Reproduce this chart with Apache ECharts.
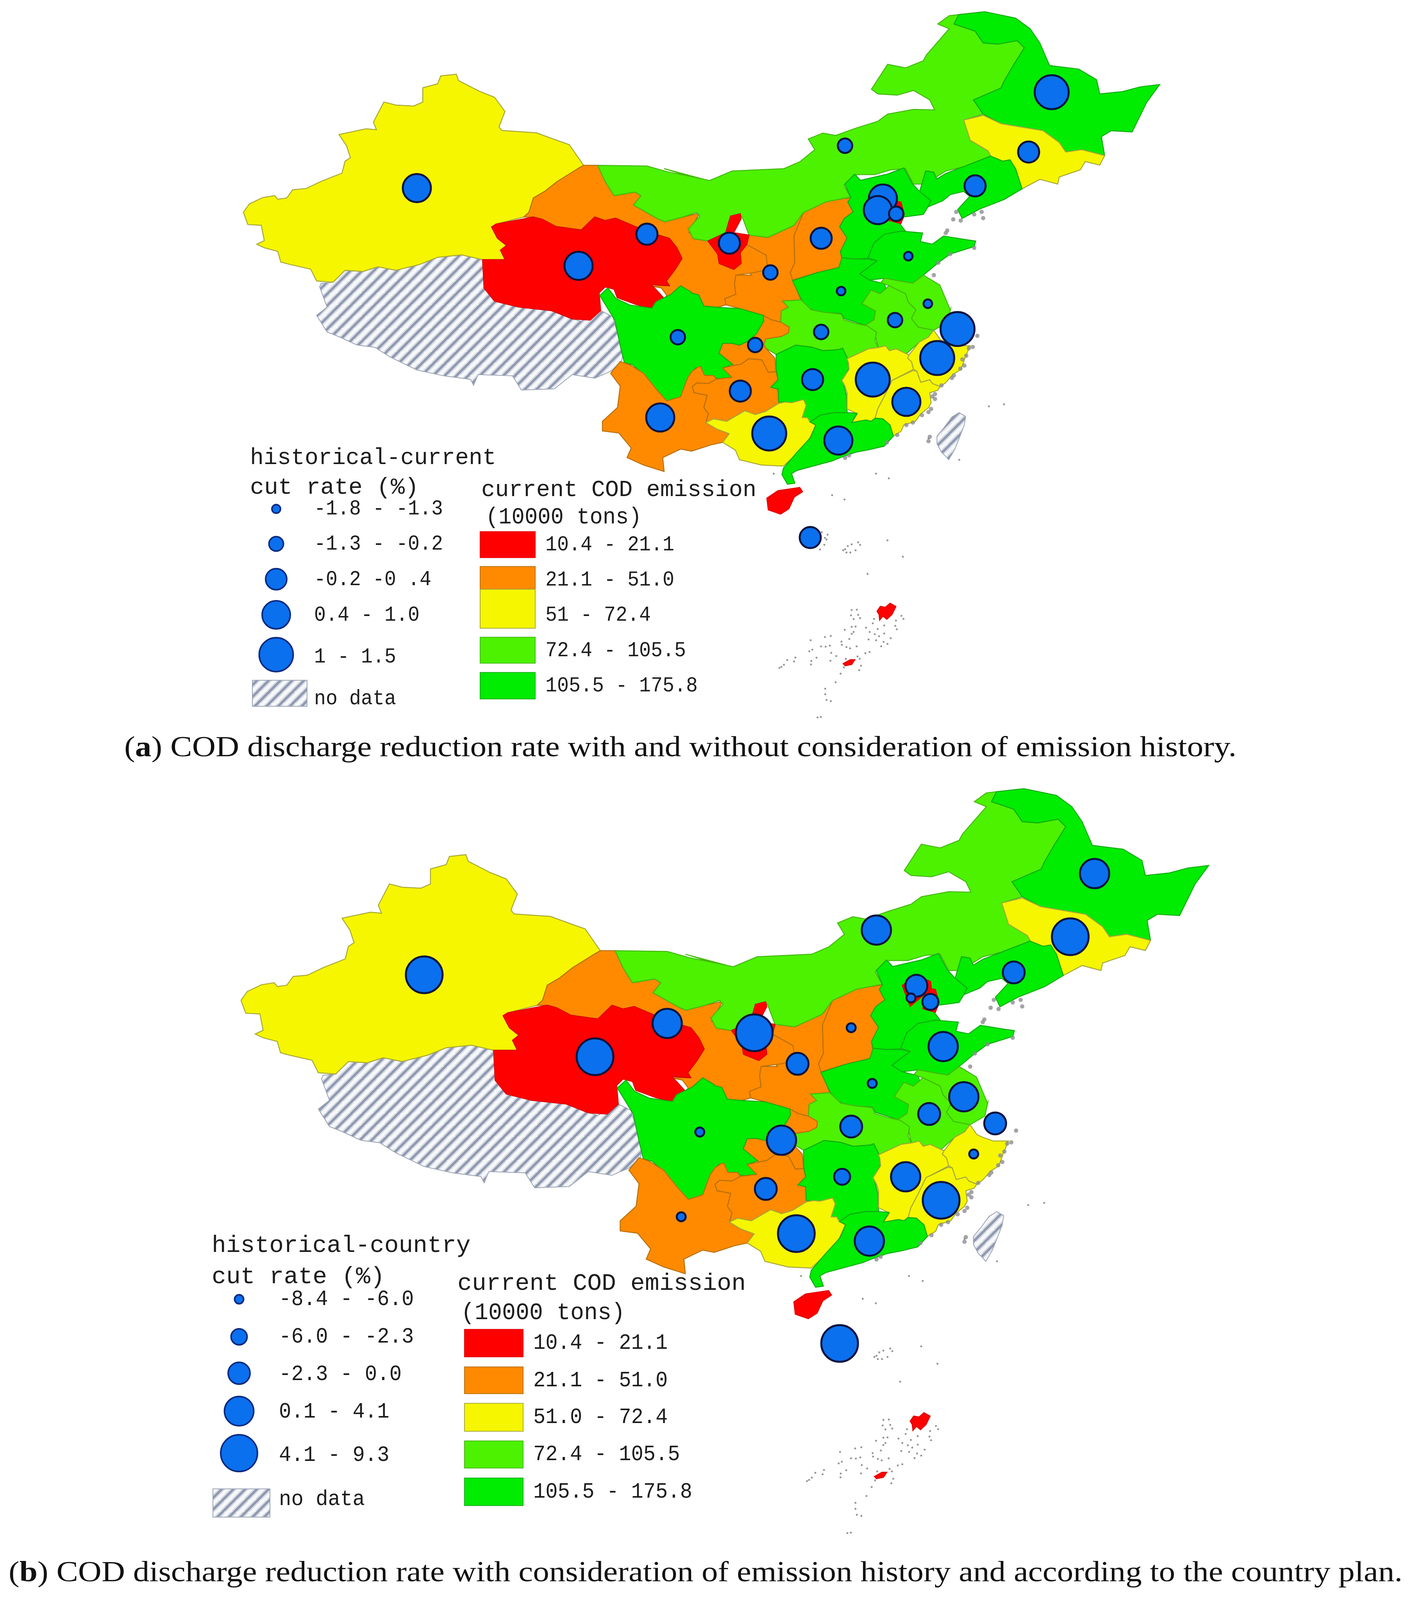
<!DOCTYPE html>
<html><head><meta charset="utf-8">
<style>html,body{margin:0;padding:0;background:#fff;overflow:hidden}#c{width:3622px;height:100vh}</style>
<script src="https://cdn.jsdelivr.net/npm/echarts@6/dist/echarts.min.js"></script>
</head><body><div id="c"></div>
<script>
// ---------- data ----------
const emissionClasses = ['10.4 - 21.1','21.1 - 51.0','51 - 72.4','72.4 - 105.5','105.5 - 175.8'];
const emissionClassesB = ['10.4 - 21.1','21.1 - 51.0','51.0 - 72.4','72.4 - 105.5','105.5 - 175.8'];
const emissionEdges = [10.4,21.1,51,72.4,105.5,175.8];
const classColors = ['#ff0000','#ff8a00','#f6f600','#4cf200','#00ec00'];
const classLines  = ['#e00000','#b8700a','#a8a83a','#45b80e','#10ad10'];
const emissionNames = ['Qinghai','Ningxia','Beijing','Tianjin','Hainan','Shanghai','Gansu','Shaanxi','Shanxi','Chongqing','Guizhou','Yunnan','Xinjiang','Jilin','Guangxi','Jiangxi','Fujian','Zhejiang','Inner Mongolia','Jiangsu','Anhui','Hubei','Heilongjiang','Liaoning','Hebei','Shandong','Henan','Sichuan','Hunan','Guangdong'];
const emissionValues = [10.4,21,18,20,19,20,38,48,44,39,32,50,66,72,70,71,62,70,86,104,88,103,146,125,134,175,137,123,124,175];

const rateEdgesA = [-1.8,-1.3,-0.2,0.4,1.0,1.5];
const rateEdgesB = [-8.4,-6.0,-2.3,0.05,4.1,9.3];
const rateLabelsA = ['-1.8 - -1.3','-1.3 - -0.2','-0.2 -0 .4','0.4 - 1.0','1 - 1.5'];
const rateLabelsB = ['-8.4 - -6.0','-6.0 - -2.3','-2.3 - 0.0','0.1 - 4.1','4.1 - 9.3'];
const bubbleNames = ['Xinjiang','Qinghai','Gansu','Sichuan','Yunnan','Chongqing','Guizhou','Guangxi','Guangdong','Hunan','Hubei','Jiangxi','Fujian','Shanghai','Zhejiang','Jiangsu','Anhui','Henan','Hainan','Shaanxi','Shanxi','Ningxia','Shandong','Liaoning','Jilin','Heilongjiang','Inner Mongolia','Beijing','Hebei','Tianjin'];
const bubbleAnchors = [[1067,506],[1481,715],[1656,630],[1735,907],[1690,1123],[1933,928],[1895,1052],[1969,1166],[2146,1185],[2080,1021],[2102,893],[2234,1021],[2320,1081],[2451,885],[2399,963],[2375,817],[2291,861],[2153,783],[2074,1446],[1972,733],[2102,641],[1867,654],[2325,689],[2496,500],[2633,409],[2692,248],[2163,392],[2260,534],[2247,565],[2294,575]];
const rateA = [0.7,0.6,0.1,-0.8,0.8,-0.9,0.2,1.2,0.7,0.2,-0.7,1.3,0.8,1.5,1.3,-1.5,-0.6,-1.7,0.2,-0.5,0.1,0.3,-1.6,0.1,0.2,1.1,-0.7,0.9,0.8,-0.3];
const rateB = [5.2,6.1,2.8,-7.2,-7.5,2.1,-1.4,6.4,2.4,-3.9,-1.2,2.9,6.8,-0.9,-6.9,2.5,-1.1,-7.8,9.3,-1.0,-8.1,7.4,1.9,-0.6,5.5,3.1,3.4,-0.5,-6.8,-3.0];

// province outlines, traced in reading frames of the source picture
const frames = {W:[600,150,1200/1568,1000/1568],E:[1700,20,1300/1568,1000/1568],S:[1500,700,1100/1568,900/1568],Z:[1950,1280,1/3,680/1568],N:[2000,400,600/1568,1/3],C:[1760,720,1/3,1/3],D:[2130,850,1/3,1/3]};
const outlines = [
['Xinjiang',[['W',[[690,85],[742,78],[750,105],[820,150],[870,175],[905,235],[885,300],[895,315],[1010,325],[1075,355],[1120,375],[1168,462],[1150,475],[1150,520],[1080,530],[1040,570],[1000,600],[985,660],[968,680],[875,710],[860,722],[880,770],[910,800],[890,820],[905,860],[830,860],[760,840],[680,850],[620,880],[540,905],[480,890],[430,910],[370,905],[330,955],[275,950],[255,900],[185,880],[155,870],[145,825],[100,810],[75,795],[100,780],[90,715],[45,712],[30,660],[50,625],[95,598],[135,590],[145,605],[175,600],[195,565],[240,560],[290,530],[360,495],[370,445],[388,430],[375,380],[350,332],[440,308],[475,312],[465,280],[500,195],[540,208],[600,212],[630,195],[630,135],[680,118]]]]],
['Tibet',[['W',[[290,960],[330,955],[370,905],[430,910],[480,890],[540,905],[620,880],[680,850],[760,840],[830,860],[835,980],[870,1035],[950,1060],[1060,1075],[1130,1110],[1160,1120],[1225,1075],[1265,1100],[1300,1250],[1295,1290],[1260,1330],[1205,1360],[1130,1345],[1070,1405],[960,1410],[930,1350],[815,1345],[800,1390],[790,1365],[700,1350],[610,1325],[520,1270],[470,1230],[410,1220],[350,1185],[310,1165],[275,1095],[310,1060],[285,975]]]]],
['Shaanxi',[['E',[[262,960],[320,970],[400,920]]],['N',[[150,510],[85,700],[90,920],[60,1000],[75,1060]]],['C',[[815,110],[870,260],[730,270],[775,320],[720,350],[715,440],[640,420],[580,385],[400,330],[295,300],[285,250],[370,215],[360,130],[370,60],[490,60]]],['E',[[238,1080],[235,1035],[255,1000]]]]],
['Shanxi',[['N',[[465,395],[445,430],[480,510],[420,565],[390,630],[440,720],[395,830],[405,890],[385,960],[240,1000],[75,1060],[60,1000],[90,920],[85,700],[150,510],[260,430]]]]],
['Gansu',[['W',[[1150,475],[1168,462],[1215,462],[1240,530],[1270,590],[1340,575],[1360,590],[1335,630],[1420,690],[1440,700],[1500,680],[1555,665],[1520,745],[1568,780]]],['E',[[75,935],[90,975],[135,985],[235,1020],[255,1000],[315,1045],[320,1105]]],['C',[[510,40],[370,60],[360,130],[370,215],[285,250],[295,300],[230,320],[125,310],[85,220],[0,205]]],['S',[[345,120],[310,160],[280,190],[295,165],[275,130],[235,120]]],['W',[[1455,970],[1445,950],[1475,900],[1497,855],[1480,810],[1455,770],[1415,755],[1340,720],[1275,685],[1240,695],[1205,680],[1160,735],[1075,720],[1030,690],[1000,680],[968,680],[985,660],[1000,600],[1040,570],[1080,530]]]]],
['Qinghai',[['W',[[860,722],[875,710],[1000,680],[1030,690],[1075,720],[1160,735],[1205,680],[1240,695],[1275,685],[1340,720],[1415,755],[1455,770],[1480,810],[1497,855],[1475,900],[1445,950],[1455,970],[1395,965],[1435,1020],[1395,1065],[1345,1050],[1280,1020],[1270,985],[1240,975],[1220,1000],[1225,1075],[1190,1115],[1130,1110],[1060,1075],[950,1060],[870,1035],[835,980],[830,860],[905,860],[890,820],[910,800],[880,770]]]]],
['Inner Mongolia',[['W',[[1215,462],[1380,465],[1450,490],[1568,520]]],['E',[[0,680],[60,705],[140,730],[210,690],[370,680],[420,650],[465,600],[445,555],[490,530],[530,540],[590,510],[660,480],[690,450],[770,430],[835,432],[820,390],[770,350],[720,370],[660,365],[640,345],[690,240],[745,255],[800,225],[810,200],[880,90],[845,70],[880,35],[910,30],[895,70],[960,100],[985,150],[1030,155],[1090,140],[1112,170],[1080,240],[1050,310],[1040,340],[955,390],[985,450],[925,475],[945,560],[1000,605],[1010,630],[960,660],[870,690],[840,715],[815,690],[800,745],[770,745],[745,680],[700,685],[650,705],[595,705],[555,750],[575,800],[500,820],[430,865],[400,920],[320,970],[262,960],[240,880],[205,880],[190,950],[135,985],[90,975],[75,935],[110,880],[100,865]]],['W',[[1500,680],[1440,700],[1420,690],[1335,630],[1360,590],[1340,575],[1270,590],[1240,530]]]]],
['Ningxia',[['E',[[205,880],[235,870],[238,890],[215,950],[262,960],[255,1000],[235,1035],[238,1080],[215,1105],[170,1080],[165,1040],[135,985],[190,950]]]]],
['Heilongjiang',[['E',[[895,70],[910,30],[990,18],[1085,45],[1130,90],[1160,150],[1190,245],[1280,260],[1335,305],[1345,365],[1415,355],[1470,335],[1530,325],[1490,400],[1445,525],[1380,520],[1350,545],[1360,625],[1290,600],[1240,610],[1220,570],[1170,520],[1040,490],[985,450],[955,390],[1040,340],[1050,310],[1080,240],[1112,170],[1090,140],[1030,155],[985,150],[960,100]]]]],
['Jilin',[['E',[[925,475],[985,455],[1040,490],[1170,520],[1220,570],[1240,610],[1290,600],[1360,625],[1345,665],[1300,650],[1285,685],[1220,715],[1215,745],[1160,725],[1105,765],[1085,680],[1050,650],[1010,630],[1000,605],[945,560]]]]],
['Liaoning',[['N',[[925,345],[965,180],[1020,190],[1040,245],[1100,200],[1250,130],[1400,60],[1480,100],[1530,90]]],['E',[[1085,680],[1105,765],[1050,810],[975,850],[920,890]]],['N',[[1180,490],[1260,385],[1220,345],[1130,370],[1080,420],[980,470],[1000,420]]]]],
['Hebei',[['N',[[425,285],[490,205],[530,255],[710,205],[820,155],[875,280],[925,345],[1000,420],[980,470],[950,530],[860,545],[820,550],[795,610],[830,665],[620,760],[580,885],[490,890],[405,880],[395,830],[440,720],[390,630],[420,565],[480,510],[445,430],[465,395]]]]],
['Beijing',[['N',[[590,400],[680,320],[770,370],[775,430],[720,480],[640,560]]]]],
['Tianjin',[['N',[[770,425],[800,430],[822,530],[800,605],[720,578],[740,480]]]]],
['Henan',[['N',[[75,1065],[240,1000],[385,960],[405,880],[490,890],[580,890],[640,905],[525,1010],[590,1060],[690,1090],[700,1130],[660,1170],[600,1140],[540,1250],[630,1310],[620,1380],[560,1425],[420,1370],[400,1330],[250,1320],[170,1280],[135,1220]]]]],
['Shandong',[['N',[[580,880],[620,760],[690,690],[800,665],[945,680],[930,750],[1010,770],[1085,705],[1240,735],[1300,745],[1290,790],[1130,850],[1050,920],[950,1020],[880,1085],[800,1070],[690,1045],[590,1060],[525,1010],[640,905]]]]],
['Jiangsu',[['N',[[665,1080],[690,1045],[800,1070],[880,1085],[950,1020],[1060,1100],[1130,1300]]],['S',[[1330,230],[1320,290]]],['D',[[780,115],[660,90]]],['N',[[870,1370],[900,1300],[850,1240],[830,1170],[720,1105]]]]],
['Anhui',[['N',[[540,1250],[600,1140],[660,1170],[700,1130],[720,1105],[830,1170],[850,1240],[900,1300],[870,1370]]],['D',[[660,90],[780,115],[740,170],[670,210],[570,305],[490,265],[440,280],[410,240],[355,255],[325,130],[270,80]]],['N',[[560,1425],[620,1380],[630,1310]]]]],
['Hubei',[['C',[[730,270],[870,260],[900,290],[950,340],[1050,360],[1180,375],[1200,420],[1290,450],[1380,470],[1450,520],[1440,590],[1465,650]]],['D',[[355,255],[280,265],[115,345]]],['C',[[1190,650],[1165,660],[1110,665],[1040,670],[950,640],[830,625],[680,700],[600,650],[585,620],[600,575],[720,555],[775,525],[780,480],[715,440],[720,350],[775,320]]]]],
['Chongqing',[['C',[[580,385],[640,420],[715,440],[780,480],[775,525],[720,555],[600,575],[585,620],[600,650],[670,730],[680,840],[620,845],[570,745],[470,735],[410,780],[350,790],[240,690],[270,610],[340,610],[400,625],[470,590],[530,530]]]]],
['Sichuan',[['S',[[50,165],[80,130],[110,180],[160,210],[240,225],[255,195],[310,160],[345,120],[385,150]]],['C',[[30,205],[85,220],[125,310],[230,320],[400,330],[580,385],[585,430],[530,530],[470,590],[400,625],[340,610],[270,610],[240,690],[345,780],[270,810],[340,885],[250,895],[215,890],[200,870],[130,870],[100,800],[60,810],[0,890]]],['S',[[345,640],[295,660],[260,610],[215,540],[170,490],[140,480],[125,400],[105,280]]]]],
['Guizhou',[['C',[[35,960],[70,930],[160,935],[220,900],[340,885],[270,810],[350,790],[410,780],[470,735],[570,745],[620,845],[680,840],[695,905],[640,965],[695,980],[700,1095],[600,1160],[520,1185],[440,1155],[300,1240],[200,1220],[140,1250],[160,1180],[125,1130],[150,1030],[50,1010]]]]],
['Yunnan',[['S',[[90,530],[125,475],[160,490],[210,530],[260,610],[295,660],[345,640]]],['C',[[0,890],[35,835],[85,800],[100,800],[130,870],[200,870],[220,900],[160,935],[70,930],[35,960],[50,1010],[150,1030],[125,1130],[160,1180],[140,1250],[220,1300],[320,1340],[270,1410],[180,1430]]],['S',[[385,895],[345,885],[280,925],[285,990],[210,960],[150,925],[165,880],[120,810],[60,800],[60,755],[115,690],[125,590]]]]],
['Hunan',[['C',[[680,700],[830,625],[950,640],[1040,670],[1110,665],[1165,660],[1190,650],[1225,725],[1240,810],[1190,910],[1220,1030],[1225,1170],[1130,1170],[1020,1190],[940,1245],[920,1210],[880,1210],[910,1110],[890,1065],[800,1090],[750,1085],[700,1085],[695,980],[640,965],[695,905],[680,820]]]]],
['Guangxi',[['C',[[140,1250],[200,1220],[300,1240],[440,1155],[520,1185],[600,1160],[700,1095],[750,1085],[800,1090],[890,1065],[910,1110],[880,1210],[920,1210],[940,1245],[985,1270],[940,1370],[900,1440],[850,1490]]],['S',[[720,965],[640,960],[560,935],[545,890]]],['C',[[270,1410],[320,1340],[220,1300]]]]],
['Jiangxi',[['D',[[115,345],[280,265],[355,255],[410,240],[440,280],[490,265],[570,305],[590,315],[580,340],[610,370],[625,430],[460,520],[405,640],[350,750],[330,825],[300,850],[260,840],[150,860],[195,790],[115,750],[115,620],[100,570],[75,520],[130,430],[125,375]]]]],
['Zhejiang',[['D',[[780,115],[830,190],[870,210],[950,240],[1020,240],[1060,240],[1020,340],[990,430],[930,470],[870,540],[830,570],[770,545],[750,515],[680,535],[650,445],[625,430],[610,370],[580,340],[590,315],[670,210],[740,170]]]]],
['Fujian',[['D',[[460,520],[620,440],[650,445],[680,535],[750,515],[770,545],[830,570],[810,600],[750,620],[760,700],[740,740],[680,790],[640,850],[550,880],[530,930],[470,970],[445,880],[390,830],[330,825],[350,750],[405,640]]]]],
['Guangdong',[['C',[[985,1270],[940,1245],[1020,1190],[1130,1170],[1225,1170],[1300,1175],[1260,1250]]],['D',[[150,860],[260,840],[300,850],[330,825],[390,830],[445,880],[470,970],[400,1050],[280,1080],[180,1100],[70,1140],[0,1170]]],['S',[[770,985],[750,1000],[762,1045],[735,1050],[715,1005],[720,975],[770,900],[820,830]]]]],
['Shanghai',[['S',[[1330,290],[1360,300],[1355,330],[1325,320]]]]],
['Hainan',[['S',[[660,1115],[700,1080],[780,1065],[790,1085],[760,1110],[740,1165],[710,1190],[665,1170]]]],[['Z',[[885,840],[910,810],[950,815],[985,790],[1030,810],[1000,860],[960,890],[930,870],[905,895],[900,860]]]],[['Z',[[625,1165],[680,1140],[715,1140],[690,1170],[640,1178]]]]],
['Taiwan',[['D',[[975,780],[1025,810],[1015,880],[975,990],[940,1080],[895,1160],[870,1130],[840,1100],[805,1030],[805,970],[860,900],[920,815]]]]]
];
// tiny offshore islands and coastal specks
const islandsS = [[1058,1000],[1105,1022],[1250,835],[1362,935],[1470,685],[1525,675],[685,1000]];
const islandsZ = [[540,120],[635,147],[965,400],[1083,502],[812,608],[740,412],[690,425],[640,455],[680,475],[720,462],[755,428],[650,475],[625,462],[660,435],[505,365],[485,385],[497,395],[480,428],[447,457],[460,350],[730,830],[690,832],[685,865],[740,862],[705,888],[755,883],[690,937],[720,935],[637,955],[705,968],[690,980],[800,942],[852,915],[862,887],[940,928],[1030,898],[1088,887],[1072,868],[1025,930],[1037,952],[828,968],[868,982],[890,950],[940,978],[990,1007],[820,1015],[878,1020],[900,995],[935,1030],[965,1042],[917,1057],[672,1012],[612,1028],[615,1048],[650,1062],[678,1070],[728,1058],[795,1100],[828,1093],[485,1000],[530,993],[375,1020],[455,1058],[490,1060],[522,1053],[365,1088],[388,1078],[533,1098],[572,1118],[420,1128],[527,1147],[380,1148],[378,1170],[195,1143],[258,1127],[248,1152],[170,1172],[150,1185],[135,1192],[645,1135],[735,1120],[752,1135],[762,1178],[748,1205],[630,1188],[605,1227],[567,1280],[487,1320],[487,1355],[497,1390],[530,1397],[453,1495],[428,1498]];
const coastD = [[1080,250],[1050,260],[1030,320],[1000,350],[1015,400],[985,425],[935,480],[920,500],[840,560],[790,630],[770,650],[790,670],[760,750],[740,775],[690,800],[620,860],[570,880],[500,960],[420,1020],[130,1125],[100,1145],[750,975],[740,1010],[1115,160]];
const coastN = [[1150,570],[1200,580],[1170,510],[1110,660],[1100,680],[1290,530],[1340,510],[1350,560],[1290,800],[1130,850],[1050,920],[1020,1020]];

// ---------- build ----------
// the browser may give less height than the 4304 asked for: fit the full page into what is there
const PAGE_H = 4304, VIEW_H = Math.min(PAGE_H, window.innerHeight || PAGE_H), SY = VIEW_H / PAGE_H;
const toUnit = (f,p)=>{const t=frames[f];return [t[0]+p[0]*t[2], -(t[1]+p[1]*t[3])];};
const ringOf = segs => { const r=[]; segs.forEach(([f,pts])=>pts.forEach(p=>r.push(toUnit(f,p)))); r.push(r[0]); return r; };
const buildGeo = () => ({type:'FeatureCollection',features:outlines.map(o=>({type:'Feature',properties:{name:o[0]},
  geometry:{type:'MultiPolygon',coordinates:o.slice(1).map(part=>[ringOf(part)])}}))});
echarts.registerMap('provincesA', buildGeo());
echarts.registerMap('provincesB', buildGeo());

function hatchTile(){
  const P=30,c=document.createElement('canvas');c.width=c.height=P;const g=c.getContext('2d');
  g.fillStyle='#f7f8fa';g.fillRect(0,0,P,P);
  const line=(w,col)=>{g.strokeStyle=col;g.lineWidth=w;[-P,0,P].forEach(d=>{g.beginPath();g.moveTo(d-2,P+2);g.lineTo(d+P+2,-2);g.stroke();});};
  line(13,'#d6dae4');line(6,'#8f99ae');
  return {image:c,repeat:'repeat'};
}
const hatch = hatchTile();

const classIdx = (edges,v)=>{for(let i=0;i<edges.length-2;i++) if(v<edges[i+1]) return i; return edges.length-2;};
const panels = [
 {map:'provincesA',rate:rateA,edges:rateEdgesA,sizes:[26,41,58,76,91],box:{left:600,top:0,width:2400,height:2000*SY}},
 {map:'provincesB',rate:rateB,edges:rateEdgesB,sizes:[27,45,60,79,98],box:{left:592.7,top:2088.3*SY,width:2534.4,height:2110*SY}}
];
const bounds=[[600,0],[3000,-2000]];
const series=[],geos=[];
const islandData=[...islandsS.map(p=>toUnit('S',p)),...islandsZ.map(p=>toUnit('Z',p))];
const coastData=[...coastD.map(p=>toUnit('D',p)),...coastN.map(p=>toUnit('N',p))];
const mapData=emissionNames.map((n,i)=>{const c=classIdx(emissionEdges,emissionValues[i]);return {name:n,value:emissionValues[i],itemStyle:{borderColor:classLines[c]}};});
mapData.push({name:'Tibet',value:NaN,itemStyle:{borderWidth:0}},{name:'Taiwan',value:NaN,itemStyle:{borderWidth:0}});
panels.forEach((p,k)=>{
  geos.push(Object.assign({map:p.map,roam:false,silent:true,aspectScale:1/SY,boundingCoords:bounds,z:1,
    itemStyle:{areaColor:'rgba(0,0,0,0)',borderWidth:0},emphasis:{disabled:true},select:{disabled:true},tooltip:{show:false},
    regions:[{name:'Tibet',itemStyle:{areaColor:hatch,borderColor:'#9aa3b5',borderWidth:2}},{name:'Taiwan',itemStyle:{areaColor:hatch,borderColor:'#9aa3b5',borderWidth:2}}]},p.box));
  series.push(Object.assign({type:'map',map:p.map,aspectScale:1/SY,boundingCoords:bounds,roam:false,silent:true,z:2,
    selectedMode:false,label:{show:false},emphasis:{disabled:true},
    itemStyle:{areaColor:'rgba(0,0,0,0)',borderWidth:2.5,borderColor:'#888'},data:mapData},p.box));
});
panels.forEach((p,k)=>{
  series.push({type:'scatter',coordinateSystem:'geo',geoIndex:k,z:3,silent:true,symbol:'circle',symbolSize:5,
    itemStyle:{color:'#7c7c7c'},data:islandData});
  series.push({type:'scatter',coordinateSystem:'geo',geoIndex:k,z:3,silent:true,symbol:'circle',symbolSize:11,
    itemStyle:{color:'#8d8d92'},data:coastData});
  series.push({type:'scatter',coordinateSystem:'geo',geoIndex:k,z:4,silent:true,symbol:'circle',name:k?'historical-country cut rate':'historical-current cut rate',
    symbolSize:v=>p.sizes[classIdx(p.edges,v[2])]-4,
    itemStyle:{color:'#0a70ee',borderColor:'#0a1440',borderWidth:5,opacity:1},
    data:bubbleNames.map((n,i)=>({name:n,value:[bubbleAnchors[i][0],-bubbleAnchors[i][1],p.rate[i]]}))});
});

// ---------- legends & captions ----------
const measure=document.createElement('canvas').getContext('2d');
const MONO='"Liberation Mono", monospace';
const g=[];
function txt(x,cy,s,size,cw){ g.push({type:'text',z:10,silent:true,x:x,y:cy*SY,scaleX:cw/(0.6*size),scaleY:SY,originX:0,originY:0,
  style:{text:s,font:size+'px '+MONO,fill:'#1d1d1d',verticalAlign:'middle',textVerticalAlign:'middle',align:'left'}}); }
function swatch(x,y,w,h,fill,stroke){ g.push({type:'rect',z:10,silent:true,shape:{x:x,y:y*SY,width:w,height:h*SY},style:{fill:fill,stroke:stroke,lineWidth:2}}); }
function dot(x,y,d){ g.push({type:'circle',z:10,silent:true,shape:{cx:x,cy:y*SY,r:d/2-2},style:{fill:'#0a70ee',stroke:'#0a2a80',lineWidth:4}}); }

const legendLayouts=[
 {titles:[['historical-current',640,1232,62,35],['cut rate (%)',640,1312,62,36],['current COD emission',1232,1318,62,35.2],['(10000 tons)',1243,1392,62,33.3]],
  dotX:707,dotY:[1369,1463,1558,1654,1761],labelX:804,labelY:[1369,1464,1559,1655,1767],size:56,cw:30,labels:rateLabelsA,sizes:panels[0].sizes,
  hatch:[646,1830,140,70],noDataY:1880,
  swX:1229,swW:141,sw:[[1430,70],[1524,61],[1585,105],[1714,70],[1809,71]],colX:1396,colY:[1466,1560,1655,1750,1845],colCw:30,cols:emissionClasses},
 {titles:[['historical-country',542,3351,64,36.8],['cut rate (%)',542,3435,64,36.9],['current COD emission',1171,3453,64,36.9],['(10000 tons)',1180,3532,64,35]],
  dotX:612,dotY:[3495,3596,3694,3796,3909],labelX:714,labelY:[3495,3596,3697,3798,3915],size:58,cw:31.4,labels:rateLabelsB,sizes:panels[1].sizes,
  hatch:[545,4005,146,76],noDataY:4033,
  swX:1189,swW:150,sw:[[3576,74],[3677,72],[3775,75],[3876,73],[3976,74]],colX:1365,colY:[3613,3714,3813,3912,4013],colCw:31.3,cols:emissionClassesB}
];
legendLayouts.forEach(L=>{
  L.titles.forEach(t=>txt(t[1],t[2],t[0],t[3],t[4]));
  L.labels.forEach((s,i)=>{dot(L.dotX,L.dotY[i],L.sizes[i]);txt(L.labelX,L.labelY[i],s,L.size,L.cw);});
  swatch(L.hatch[0],L.hatch[1],L.hatch[2],L.hatch[3],hatch,'#9aa3b5');
  txt(L.labelX,L.noDataY,'no data',L.size,L.cw);
  L.cols.forEach((s,i)=>{swatch(L.swX,L.sw[i][0],L.swW,L.sw[i][1],classColors[i],classLines[i]);txt(L.colX,L.colY[i],s,L.size,L.colCw);});
});
function caption(letter,rest,x0,x1,cy,size){
  const reg=size+'px "Liberation Serif", serif',bold='bold '+size+'px "Liberation Serif", serif';
  measure.font=reg;const w1=measure.measureText('(').width,w3=measure.measureText(')'+rest).width;
  measure.font=bold;const w2=measure.measureText(letter).width;
  const k=(x1-x0)/(w1+w2+w3);
  [['(',reg,0],[letter,bold,w1],[')'+rest,reg,w1+w2]].forEach(([s,f,dx])=>g.push({type:'text',z:10,silent:true,x:x0+dx*k,y:cy*SY,scaleX:k,scaleY:SY,originX:0,originY:0,
    style:{text:s,font:f,fill:'#111',verticalAlign:'middle',textVerticalAlign:'middle',align:'left'}}));
}
caption('a',' COD discharge reduction rate with and without consideration of emission history.',318,3165,2014,78);
caption('b',' COD discharge reduction rate with consideration of emission history and according to the country plan.',22,3590,4233,78);

const chart=echarts.init(document.getElementById('c'),null,{renderer:'canvas',devicePixelRatio:1,width:3622,height:VIEW_H});
chart.setOption({
  backgroundColor:'#ffffff',animation:false,tooltip:{show:false},
  geo:geos,
  visualMap:[{type:'piecewise',show:false,seriesIndex:[0,1],dimension:0,
    pieces:emissionClasses.map((s,i)=>({min:emissionEdges[i],max:emissionEdges[i+1],color:classColors[i]})),
    outOfRange:{color:'rgba(0,0,0,0)'}}],
  series:series,
  graphic:{elements:g}
});
</script></body></html>
